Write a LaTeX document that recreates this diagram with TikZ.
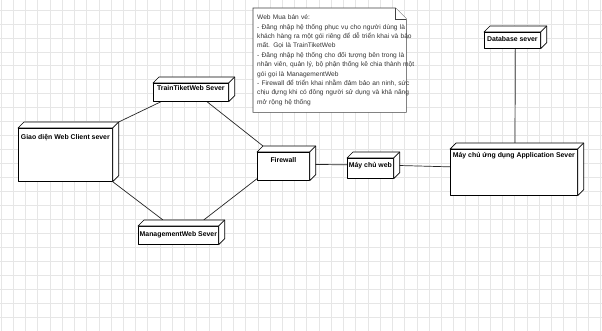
\documentclass[tikz,border=0pt]{standalone}
\usepackage{fontspec}
\setmainfont{Liberation Sans}
\usetikzlibrary{calc}
\pgfdeclarelayer{bg}
\pgfdeclarelayer{lines}
\pgfsetlayers{bg,lines,main}
\definecolor{gridgray}{HTML}{E6E6E6}
\definecolor{notetext}{HTML}{333333}
\tikzset{
  gridline/.style={draw=gridgray, line width=0.6pt},
  boxline/.style={draw=black, fill=white, line width=0.7pt, line join=round},
  umlnode/.style n args={3}{boxline, inner sep=0pt, anchor=north west,
    minimum width=#1, text height=#2, text depth=#3,
    font=\fontsize{6.9}{8}\selectfont\bfseries},
  notebox/.style={draw=black!75, fill=white, line width=0.6pt},
  notetxt/.style={anchor=north west, inner xsep=4pt, inner ysep=0pt,
    minimum width=153, minimum height=104, text width=145, align=left,
    text=notetext, font=\fontsize{6.6}{9.4}\selectfont},
  conn/.style={draw=black!85, line width=0.7pt},
}
\begin{document}
\begin{tikzpicture}[x=1pt,y=-1pt]
\useasboundingbox (0,0) rectangle (602,331);

% background grid
\begin{pgfonlayer}{bg}
  \fill[white] (0,0) rectangle (602,331);
  \foreach \i in {0,...,49} \draw[gridline] (1+12.23*\i,0) -- ++(0,331);
  \foreach \j in {0,...,23} \draw[gridline] (0,10+13.95*\j) -- ++(602,0);
\end{pgfonlayer}

% deployment nodes (front faces)
\node[umlnode={94}{11}{42}]  (client)   at (18,128)  {Giao diện Web Client sever};
\node[umlnode={75}{7.5}{10.5}] (train)  at (153,83)  {TrainTiketWeb Sever};
\node[umlnode={80}{10.5}{7.5}] (mgmt)   at (138,226) {ManagementWeb Sever};
\node[umlnode={52}{10.5}{17.5}] (firewall) at (257,152) {Firewall};
\node[umlnode={46}{9.5}{10.5}] (web)    at (347,158) {Máy chủ web};
\node[umlnode={127}{8.5}{37.5}] (app)   at (450,149) {Máy chủ ứng dụng Application Sever};
\node[umlnode={56}{9.5}{6.5}]  (db)     at (484,32)  {Database sever};

% top and side faces of the 3D boxes
\foreach \n in {client,train,mgmt,firewall,web,app,db}{
  \filldraw[boxline] (\n.north west) -- ++(6,-6) -- ($(\n.north east)+(6,-6)$)
    -- ($(\n.south east)+(6,-6)$) -- (\n.south east) -- (\n.north east) -- cycle;
  \draw[boxline] (\n.north east) -- ++(6,-6);
}

% note with folded corner
\node[notetxt] (note) at (253,8) {%
\mbox{Web Mua bán vé:}\\
\mbox{- Đăng nhập hệ thống phục vụ cho người dùng là}\\
\mbox{khách hàng ra một gói riêng để dễ triển khai và bảo}\\
\mbox{mất. Gọi là TrainTiketWeb}\\
\mbox{- Đăng nhập hệ thống cho đối tượng bên trong là}\\
\mbox{nhân viên, quản lý, bộ phận thống kê chia thành một}\\
\mbox{gói gọi là ManagementWeb}\\
\mbox{- Firewall để triển khai nhằm đảm bảo an ninh, sức}\\
\mbox{chịu đựng khi có đông người sử dụng và khả năng}\\
\mbox{mở rộng hệ thống}};
\begin{pgfonlayer}{bg}
  \filldraw[notebox] (note.north west) -- ($(note.north east)+(-11,0)$)
    -- ($(note.north east)+(0,11)$) -- (note.south east) -- (note.south west) -- cycle;
  \draw[notebox] ($(note.north east)+(-11,0)$) -- ++(0,11) -- ++(11,0);
\end{pgfonlayer}

% connectors
\begin{pgfonlayer}{lines}
  \draw[conn] ($(client.north east)+(6,-6)$) -- ($(train.south west)+(8,0)$);
  \draw[conn] (client.south east) -- ($(mgmt.north west)+(25,-6)$);
  \draw[conn] ($(train.south west)+(54,0)$) -- ($(firewall.north west)+(6,-6)$);
  \draw[conn] ($(firewall.south west)+(0,-2)$) -- ($(mgmt.north east)+(-15,-6)$);
  \draw[conn] ($(firewall.east)+(0,-2)$) -- ($(web.west)+(0,-3.5)$);
  \draw[conn] ($(web.east)+(0,-3)$) -- ($(app.west)+(0,-5.5)$);
  \draw[conn] ($(db.south)+(3,0)$) -- ($(app.north west)+(65,-6)$);
\end{pgfonlayer}
\end{tikzpicture}
\end{document}
